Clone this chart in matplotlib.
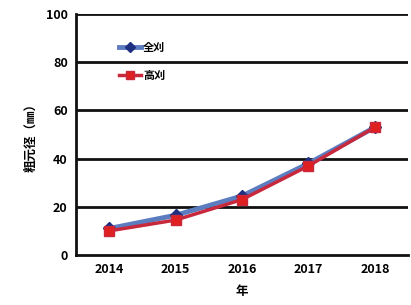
import matplotlib
matplotlib.use("Agg")
import matplotlib.pyplot as plt

plt.rcParams['font.family'] = ['Liberation Sans Narrow', 'Noto Sans CJK JP', 'DejaVu Sans']

years = ['2014', '2015', '2016', '2017', '2018']
zenkari = [11, 16.5, 24.5, 38, 53]
takakari = [10, 14.5, 23, 37, 53]
yticks = [0, 20, 40, 60, 80, 100]

fig = plt.figure(figsize=(4.11, 3.05), dpi=100)
ax = fig.add_axes([0.185, 0.164, 0.808, 0.79])
x = list(range(len(years)))

for y in yticks[1:]:
    ax.axhline(y, color='#111111', lw=2, zorder=1)

ax.plot(x, zenkari, color='#5c7cc0', lw=3.5, marker='D', ms=6,
        mfc='#1f2f80', mec='#1f2f80', label='全刈', zorder=3)
ax.plot(x, takakari, color='#c8283c', lw=2.5, marker='s', ms=7,
        mfc='#e02020', mec='#c8283c', label='高刈', zorder=4)

ax.set_xlim(-0.5, 4.5)
ax.set_ylim(0, 100)
ax.set_xticks(x)
ax.set_xticklabels(years, fontsize=9, fontweight='bold')
ax.set_yticks(yticks)
ax.set_yticklabels([str(v) for v in yticks], fontsize=9, fontweight='bold')
ax.tick_params(length=0, pad=6)
for s in ['top', 'right']:
    ax.spines[s].set_visible(False)
for s in ['left', 'bottom']:
    ax.spines[s].set_linewidth(2)
    ax.spines[s].set_color('#111111')

ax.set_xlabel('年', fontsize=9, fontweight='bold', family=['Noto Sans CJK JP'], labelpad=6)
ax.set_ylabel('粗元径（㎜）', fontsize=9, fontweight='bold', family=['Noto Sans CJK JP', 'DejaVu Sans'], labelpad=6)

leg = ax.legend(loc='upper left', bbox_to_anchor=(0.115, 0.905), frameon=False,
                prop={'family': ['Noto Sans CJK JP'], 'size': 8, 'weight': 'bold'},
                handlelength=2.0, handletextpad=0.2, labelspacing=1.3, borderaxespad=0,
                markerscale=0.85)

fig.savefig('out.png', dpi=100, facecolor='white')
